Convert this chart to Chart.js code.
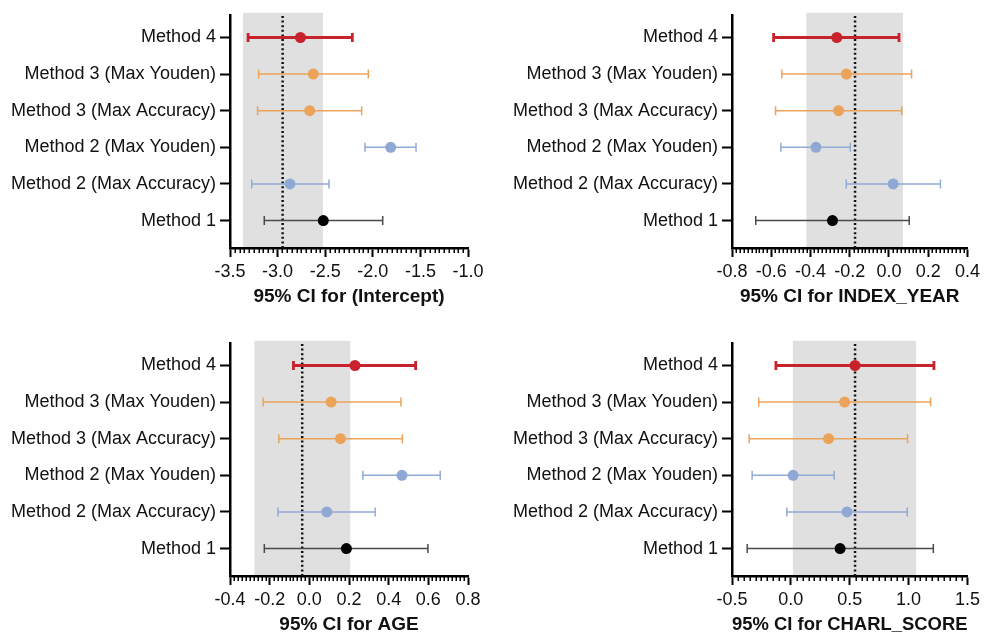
<!DOCTYPE html>
<html>
<head>
<meta charset="utf-8">
<script src="https://cdn.jsdelivr.net/npm/chart.js@4"></script>
<style>
  body { margin: 0; background: #fff; overflow: hidden; }
  #wrap { position: relative; width: 984px; height: 634px; overflow: hidden; }
  canvas { position: absolute; }
</style>
</head>
<body>
<div id="wrap">
  <canvas id="c1" width="490" height="310" style="left:0;top:0"></canvas>
  <canvas id="c2" width="482" height="310" style="left:502px;top:0"></canvas>
  <canvas id="c3" width="490" height="310" style="left:0;top:328px"></canvas>
  <canvas id="c4" width="482" height="310" style="left:502px;top:328px"></canvas>
</div>
<script>
// rows, top to bottom
const methods = ['Method 4', 'Method 3 (Max Youden)', 'Method 3 (Max Accuracy)',
                 'Method 2 (Max Youden)', 'Method 2 (Max Accuracy)', 'Method 1'];
const lineColors  = ['#c8222c', '#eba35a', '#eba35a', '#92aad6', '#92aad6', '#4a4a4a'];
const pointColors = ['#c8222c', '#eba35a', '#eba35a', '#8fa8d4', '#8fa8d4', '#000000'];

// (Intercept)
const interceptEst = [-2.76, -2.625, -2.663, -1.812, -2.87, -2.52];
const interceptLow = [-3.31, -3.20, -3.21, -2.082, -3.272, -3.14];
const interceptHigh = [-2.215, -2.047, -2.117, -1.546, -2.46, -1.896];
const interceptBand = [-3.363, -2.523];
const interceptRef = -2.947;

// INDEX_YEAR
const yearEst = [-0.266, -0.217, -0.257, -0.372, 0.021, -0.288];
const yearLow = [-0.588, -0.546, -0.578, -0.551, -0.218, -0.679];
const yearHigh = [0.051, 0.115, 0.065, -0.197, 0.262, 0.103];
const yearBand = [-0.421, 0.071];
const yearRef = -0.173;

// AGE
const ageEst = [0.23, 0.11, 0.157, 0.467, 0.088, 0.187];
const ageLow = [-0.08, -0.233, -0.154, 0.27, -0.158, -0.227];
const ageHigh = [0.536, 0.462, 0.469, 0.66, 0.332, 0.598];
const ageBand = [-0.277, 0.206];
const ageRef = -0.036;

// CHARL_SCORE
const charlEst = [0.545, 0.457, 0.32, 0.019, 0.477, 0.418];
const charlLow = [-0.127, -0.273, -0.354, -0.329, -0.034, -0.371];
const charlHigh = [1.215, 1.187, 0.991, 0.368, 0.988, 1.21];
const charlBand = [0.017, 1.064];
const charlRef = 0.545;

// x axis ranges: [min, max, major step]
const interceptAxis = [-3.5, -1.0, 0.5];
const yearAxis = [-0.8, 0.4, 0.2];
const ageAxis = [-0.4, 0.8, 0.2];
const charlAxis = [-0.5, 1.5, 0.5];

const Y_MIN = -0.75, Y_MAX = 5.62;
const FONT = "'Liberation Sans', Arial, Helvetica, sans-serif";

// grey band + minor ticks drawn through the x scale
const bandPlugin = {
    id: 'band',
    beforeDatasetsDraw(chart, args, opts) {
        const { ctx, chartArea, scales: { x } } = chart;
        const x0 = x.getPixelForValue(opts.range[0]);
        const x1 = x.getPixelForValue(opts.range[1]);
        ctx.save();
        ctx.fillStyle = '#e0e0e0';
        ctx.fillRect(x0, chartArea.top - 2, x1 - x0, chartArea.bottom - chartArea.top + 1);
        ctx.restore();
    },
    afterDraw(chart, args, opts) {
        const { ctx, chartArea, scales: { x } } = chart;
        const minor = opts.step / 10;
        ctx.save();
        ctx.strokeStyle = '#000';
        ctx.lineWidth = 1.5;
        for (let i = 0; x.min + i * minor <= x.max + 1e-9; i++) {
            if (i % 10 === 0) continue;
            const px = Math.round(x.getPixelForValue(x.min + i * minor)) + 0.25;
            ctx.beginPath();
            ctx.moveTo(px, chartArea.bottom);
            ctx.lineTo(px, chartArea.bottom + 5);
            ctx.stroke();
        }
        ctx.restore();
    }
};

function makePanel(id, title, est, low, high, band, ref, axis, padRight) {
    const n = methods.length;
    const datasets = [];

    // estimates on top
    datasets.push({
        type: 'scatter',
        data: est.map((v, i) => ({ x: v, y: n - 1 - i })),
        pointRadius: 5.5,
        pointBackgroundColor: pointColors,
        pointBorderWidth: 0
    });

    // confidence intervals with caps
    est.forEach((v, i) => {
        const w = i === 0 ? 2.8 : 1.5;
        datasets.push({
            type: 'line',
            data: [{ x: low[i], y: n - 1 - i }, { x: high[i], y: n - 1 - i }],
            borderColor: lineColors[i],
            borderWidth: w,
            pointStyle: 'line',
            rotation: 90,
            pointRadius: 4.5,
            pointBorderColor: lineColors[i],
            pointBorderWidth: w
        });
    });

    // dotted reference line
    datasets.push({
        type: 'line',
        data: [{ x: ref, y: Y_MIN }, { x: ref, y: Y_MAX }],
        borderColor: '#111',
        borderWidth: 2.5,
        borderDash: [2, 2.6],
        pointRadius: 0
    });

    new Chart(document.getElementById(id), {
        type: 'scatter',
        data: { datasets },
        options: {
            responsive: false,
            animation: false,
            layout: { padding: { top: 10, right: padRight, left: 0, bottom: 0 } },
            plugins: {
                legend: { display: false },
                tooltip: { enabled: false },
                band: { range: band, step: axis[2] }
            },
            scales: {
                x: {
                    type: 'linear',
                    min: axis[0],
                    max: axis[1],
                    afterFit: s => { s.height = 62; },
                    ticks: {
                        stepSize: axis[2],
                        color: '#111',
                        padding: 4,
                        font: { family: FONT, size: 18 },
                        callback: v => v.toFixed(1)
                    },
                    grid: { drawOnChartArea: false, tickLength: 9, tickWidth: 2, tickColor: '#000' },
                    border: { color: '#000', width: 2.5 },
                    title: {
                        display: true,
                        text: title,
                        color: '#111',
                        font: { family: FONT, size: 19, weight: 'bold' },
                        padding: { top: 2, bottom: 2 }
                    }
                },
                y: {
                    type: 'linear',
                    min: Y_MIN,
                    max: Y_MAX,
                    afterFit: s => { s.width = 230; },
                    afterBuildTicks: s => { s.ticks = methods.map((m, i) => ({ value: i })); },
                    ticks: {
                        color: '#111',
                        padding: 4,
                        font: { family: FONT, size: 18 },
                        callback: v => methods[n - 1 - v]
                    },
                    grid: { drawOnChartArea: false, tickLength: 10, tickWidth: 2, tickColor: '#000' },
                    border: { color: '#000', width: 2.5 }
                }
            }
        },
        plugins: [bandPlugin]
    });
}

makePanel('c1', '95% CI for (Intercept)', interceptEst, interceptLow, interceptHigh,
          interceptBand, interceptRef, interceptAxis, 22);
makePanel('c2', '95% CI for INDEX_YEAR', yearEst, yearLow, yearHigh,
          yearBand, yearRef, yearAxis, 15);
makePanel('c3', '95% CI for AGE', ageEst, ageLow, ageHigh,
          ageBand, ageRef, ageAxis, 22);
makePanel('c4', '95% CI for CHARL_SCORE', charlEst, charlLow, charlHigh,
          charlBand, charlRef, charlAxis, 15);
</script>
</body>
</html>
